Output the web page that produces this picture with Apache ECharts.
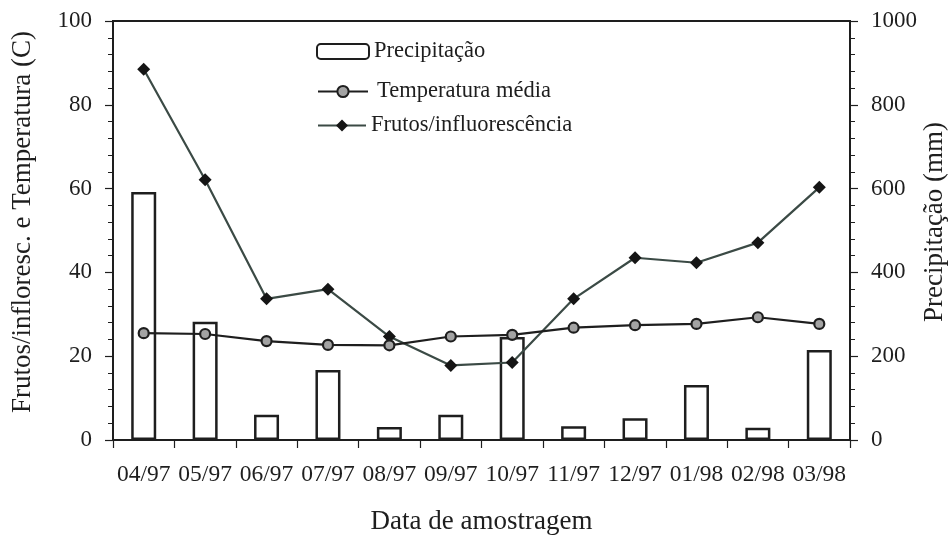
<!DOCTYPE html>
<html>
<head>
<meta charset="utf-8">
<script src="https://cdn.jsdelivr.net/npm/echarts@6/dist/echarts.min.js"></script>
<style>html,body{margin:0;padding:0;background:#fff;overflow:hidden}#c{width:949px;height:536px}</style>
</head>
<body>
<div id="c"></div>
<script>
var categories = ['04/97','05/97','06/97','07/97','08/97','09/97','10/97','11/97','12/97','01/98','02/98','03/98'];
var precipitacao = [592, 282, 60, 167, 31, 60, 246, 33, 52, 131, 29, 215];
var temperatura = [25.5, 25.3, 23.6, 22.7, 22.6, 24.7, 25.1, 26.8, 27.4, 27.7, 29.3, 27.7];
var frutos = [88.5, 62.1, 33.7, 36.0, 24.7, 17.8, 18.5, 33.7, 43.5, 42.3, 47.1, 60.3];
var leftTicks = [0, 20, 40, 60, 80, 100];
var rightTicks = [0, 200, 400, 600, 800, 1000];

var FONT = "'Liberation Serif', 'Times New Roman', serif";
var INK = '#1e1e1e';
var chart = echarts.init(document.getElementById('c'), null, {renderer: 'canvas', width: 949, height: 536});

function yAxisCommon(ticks, pos) {
  return {
    type: 'value', position: pos,
    min: ticks[0], max: ticks[ticks.length - 1], interval: ticks[1] - ticks[0],
    axisLine: {show: true, lineStyle: {color: INK, width: 2}},
    axisTick: {show: true, length: 8, lineStyle: {color: INK, width: 1.2}},
    minorTick: {show: true, splitNumber: 5, length: 5, lineStyle: {color: INK, width: 1}},
    splitLine: {show: false},
    axisLabel: {color: INK, fontFamily: FONT, fontSize: 23, margin: 21,
                formatter: function (v) { return String(v); }}
  };
}

chart.setOption({
  animation: false,
  backgroundColor: '#fff',
  grid: {left: 113, right: 99, top: 21, bottom: 96, outerBoundsMode: 'none', containLabel: false,
         show: true, borderColor: INK, borderWidth: 2, backgroundColor: 'transparent'},
  legend: [
    {data: ['Precipitação'], left: 316, top: 40, padding: 0, itemWidth: 52, itemHeight: 15,
     textStyle: {fontFamily: FONT, fontSize: 22.5, color: INK}, selectedMode: false},
    {data: ['Temperatura média'], left: 317, top: 80, padding: 0, itemWidth: 50, itemHeight: 14,
     textStyle: {fontFamily: FONT, fontSize: 22.5, color: INK, padding: [0,0,0,4]}, selectedMode: false},
    {data: ['Frutos/influorescência'], left: 317, top: 114, padding: 0, itemWidth: 48, itemHeight: 15,
     textStyle: {fontFamily: FONT, fontSize: 22.5, color: INK}, selectedMode: false}
  ],
  xAxis: {
    type: 'category', data: categories, boundaryGap: true,
    name: 'Data de amostragem', nameLocation: 'middle', nameGap: 68,
    nameTextStyle: {fontFamily: FONT, fontSize: 27, color: INK},
    axisLine: {lineStyle: {color: INK, width: 2}},
    axisTick: {show: true, interval: 0, length: 8, lineStyle: {color: INK, width: 1.2}},
    axisLabel: {color: INK, fontFamily: FONT, fontSize: 23.5, margin: 23, interval: 0}
  },
  yAxis: [yAxisCommon(leftTicks, 'left'), yAxisCommon(rightTicks, 'right')],
  graphic: [
    {type: 'text', x: 23, y: 222, rotation: Math.PI / 2,
     style: {text: 'Frutos/infloresc. e Temperatura (C)', font: '27px ' + FONT, fill: INK, textAlign: 'center', textVerticalAlign: 'middle'}},
    {type: 'text', x: 935, y: 222, rotation: Math.PI / 2,
     style: {text: 'Precipitação (mm)', font: '27px ' + FONT, fill: INK, textAlign: 'center', textVerticalAlign: 'middle'}}
  ],
  series: [
    {name: 'Precipitação', type: 'bar', yAxisIndex: 1, data: precipitacao, barWidth: 25, z: 1,
     itemStyle: {color: '#ffffff', borderColor: INK, borderWidth: 2.5}},
    {name: 'Frutos/influorescência', type: 'line', yAxisIndex: 0, data: frutos, z: 3,
     symbol: 'diamond', symbolSize: 13,
     lineStyle: {color: '#3b4a45', width: 2.2},
     itemStyle: {color: '#151515', borderColor: '#151515', borderWidth: 0}},
    {name: 'Temperatura média', type: 'line', yAxisIndex: 0, data: temperatura, z: 4,
     symbol: 'circle', symbolSize: 10,
     lineStyle: {color: INK, width: 2.2},
     itemStyle: {color: '#a3a3a3', borderColor: INK, borderWidth: 2.2}}
  ]
});
</script>
</body>
</html>
